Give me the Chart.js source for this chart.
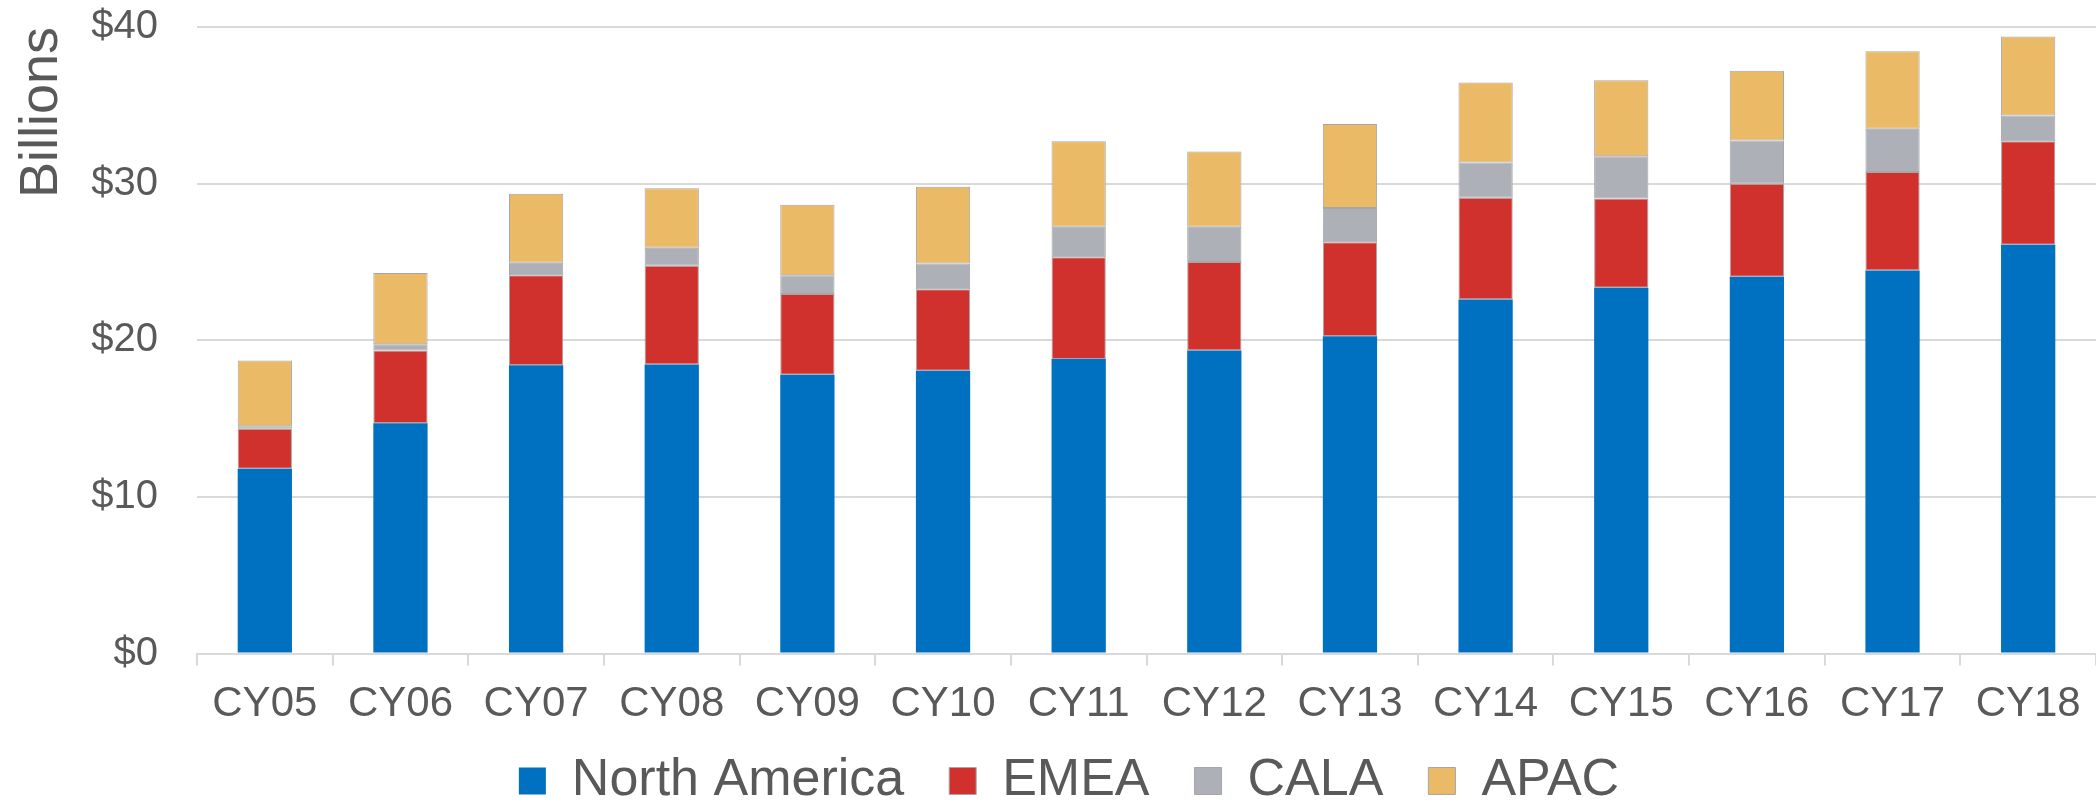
<!DOCTYPE html>
<html>
<head>
<meta charset="utf-8">
<script src="https://cdn.jsdelivr.net/npm/chart.js@4"></script>
<style>
  html, body { margin: 0; padding: 0; background: #ffffff; }
  #wrap { width: 2096px; height: 802px; }
</style>
</head>
<body>
<div id="wrap"><canvas id="c" width="2096" height="802"></canvas></div>
<script>
const categories = ['CY05','CY06','CY07','CY08','CY09','CY10','CY11','CY12','CY13','CY14','CY15','CY16','CY17','CY18'];
const northAmerica = [11.8, 14.7, 18.4, 18.45, 17.8, 18.05, 18.8, 19.35, 20.25, 22.6, 23.35, 24.05, 24.45, 26.1];
const emea = [2.55, 4.65, 5.75, 6.3, 5.15, 5.2, 6.5, 5.65, 6.0, 6.5, 5.7, 5.95, 6.3, 6.6];
const cala = [0.16, 0.4, 0.8, 1.15, 1.2, 1.65, 1.95, 2.25, 2.2, 2.25, 2.7, 2.75, 2.75, 1.65];
const apac = [4.2, 4.55, 4.4, 3.8, 4.5, 4.9, 5.45, 4.8, 5.35, 5.1, 4.85, 4.45, 4.95, 5.05];
const yTicks = [0, 10, 20, 30, 40];
const yTitle = 'Billions';

const FONT = '"Liberation Sans", Arial, sans-serif';
const TEXT = '#595959';
const GRID = '#d9d9d9';

const ds = (label, data, color, border, bw) => ({
  label, data, backgroundColor: color, borderColor: border, borderWidth: bw,
  barPercentage: 0.4, categoryPercentage: 1.0, borderSkipped: false
});

const legendShift = {
  id: 'legendShift',
  afterLayout(chart) {
    const l = chart.legend;
    if (!l) return;
    l.top = 710;
    l.bottom = 802;
    l.height = 92;
    l.left += 11; l.right += 11;
  }
};

new Chart(document.getElementById('c'), {
  type: 'bar',
  data: {
    labels: categories,
    datasets: [
      ds('North America', northAmerica, '#0070C0', '#3d8fd1', 0),
      ds('EMEA', emea, '#D0312D', '#a6a6a6', 1),
      ds('CALA', cala, '#AEB0B7', '#a6a6a6', 1),
      ds('APAC', apac, '#EBBA66', '#a6a6a6', 1)
    ]
  },
  plugins: [legendShift],
  options: {
    responsive: false,
    devicePixelRatio: 1,
    animation: false,
    layout: { padding: { top: 27, left: 15, right: -5, bottom: 0 } },
    plugins: {
      tooltip: { enabled: false },
      legend: {
        position: 'bottom',
        maxHeight: 68.5,
        labels: {
          boxWidth: 27, boxHeight: 27, padding: 45,
          color: TEXT, font: { family: FONT, size: 52 }
        }
      }
    },
    scales: {
      x: {
        stacked: true,
        afterFit: (s) => { s.height = 80; },
        grid: { offset: true, drawOnChartArea: false, drawTicks: true, tickLength: 12, color: GRID, lineWidth: 2 },
        border: { display: true, color: GRID, width: 2 },
        ticks: { color: TEXT, font: { family: FONT, size: 42 }, padding: 14, maxRotation: 0, autoSkip: false }
      },
      y: {
        stacked: true,
        min: 0, max: 40,
        afterFit: (s) => { s.width = 182; },
        afterBuildTicks: (s) => { s.ticks = yTicks.map(v => ({ value: v })); },
        grid: { color: GRID, lineWidth: 2, drawTicks: true, tickLength: 39, tickColor: 'rgba(0,0,0,0)' },
        border: { display: false },
        ticks: { color: TEXT, font: { family: FONT, size: 40 }, padding: 0, callback: (v) => '$' + v },
        title: { display: true, text: yTitle, align: 'end', color: TEXT, padding: 0, font: { family: FONT, size: 54, lineHeight: 1 } }
      }
    }
  }
});
</script>
</body>
</html>
